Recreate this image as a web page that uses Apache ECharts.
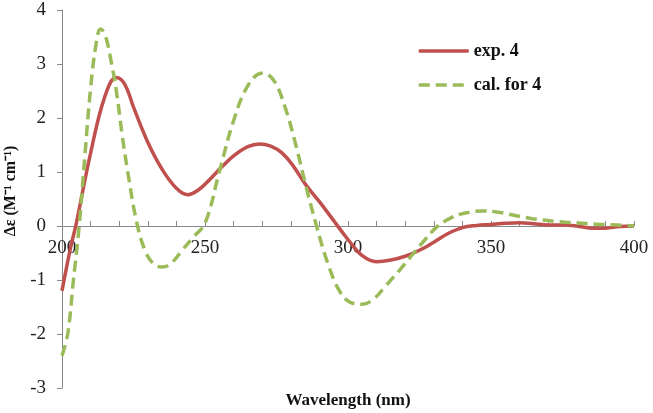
<!DOCTYPE html>
<html>
<head>
<meta charset="utf-8">
<script src="https://cdn.jsdelivr.net/npm/echarts@6/dist/echarts.min.js"></script>
<style>html,body{margin:0;padding:0;background:#fff}#c{width:653px;height:413px}</style>
</head>
<body>
<div id="c"></div>
<script>
// exp. 4 (wavelength nm, Δε)
const expWave = [200,203,205,210,215,219,222,225,230,235,240,244,248,252,256,260,265,269,273,277,281,285,290,295,300,305,310,315,320,325,330,335,340,345,350,355,360,365,370,375,380,385,390,395,400];
const expVals = [-1.2,-0.4,0.05,1.35,2.4,2.75,2.62,2.2,1.55,1.05,0.7,0.58,0.68,0.88,1.1,1.3,1.47,1.52,1.48,1.35,1.1,0.78,0.45,0.1,-0.25,-0.55,-0.66,-0.63,-0.56,-0.45,-0.3,-0.14,-0.03,0.01,0.03,0.05,0.06,0.04,0.02,0.02,0.0,-0.04,-0.04,-0.01,0.0];
// cal. for 4
const calWave = [200,202,204,206,208,210,212,213.5,215,217,219,221,223,226,229,232,235,238,242,246,250,255,260,265,270,274,278,282,285,289,293,297,301,305,309,313,318,323,327,331,336,341,347,352,358,364,370,376,382,388,394,400];
const calVals = [-2.4,-2.0,-1.0,0.0,1.3,2.55,3.4,3.65,3.55,3.1,2.5,1.7,1.0,0.1,-0.45,-0.7,-0.76,-0.7,-0.45,-0.2,0.05,1.0,1.95,2.6,2.83,2.7,2.2,1.45,0.8,0.0,-0.7,-1.2,-1.42,-1.45,-1.35,-1.12,-0.82,-0.5,-0.25,-0.02,0.15,0.24,0.28,0.26,0.2,0.14,0.1,0.07,0.05,0.03,0.02,0.0];
const seriesNames = ['exp. 4', 'cal. for 4'];
const xLabelEvery = 50;

const font = "'Liberation Serif','Times New Roman',serif";
const chart = echarts.init(document.getElementById('c'), null, {renderer: 'canvas'});
chart.setOption({
  animation: false,
  backgroundColor: '#fff',
  grid: {left: 62, right: 19, top: 10, bottom: 25, containLabel: false, outerBoundsMode: 'none'},
  legend: {
    orient: 'vertical', left: 412, top: 37,
    itemWidth: 50, itemHeight: 16, itemGap: 16,
    itemStyle: {opacity: 0},
    lineStyle: {width: 3.5},
    textStyle: {fontFamily: font, fontSize: 18, fontWeight: 'bold', color: '#111'},
    data: seriesNames
  },
  xAxis: {
    type: 'value', min: 200, max: 400, interval: 10,
    offset: -162,
    axisLine: {onZero: false, lineStyle: {color: '#888', width: 1}},
    axisTick: {inside: true, length: 5, lineStyle: {color: '#888'}},
    axisLabel: {
      margin: 13, fontFamily: font, fontSize: 19, color: '#222',
      formatter: v => (v % xLabelEvery === 0 ? String(v) : '')
    },
    splitLine: {show: false},
    name: 'Wavelength (nm)', nameLocation: 'middle', nameGap: 166,
    nameTextStyle: {fontFamily: font, fontSize: 17, fontWeight: 'bold', color: '#111'}
  },
  yAxis: {
    type: 'value', min: -3, max: 4, interval: 1,
    axisLine: {show: true, lineStyle: {color: '#888', width: 1}},
    axisTick: {show: true, length: 5, lineStyle: {color: '#888'}},
    axisLabel: {margin: 16, fontFamily: font, fontSize: 19, color: '#222'},
    splitLine: {show: false},
    name: 'Δε (M⁻¹ cm⁻¹)', nameLocation: 'middle', nameGap: 40, nameRotate: 90,
    nameTextStyle: {fontFamily: font, fontSize: 16, fontWeight: 'bold', color: '#111', padding: [0, 0, 0, 16]}
  },
  series: [
    {
      name: seriesNames[0], type: 'line', smooth: 0.4, symbol: 'none',
      data: expWave.map((w, i) => [w, expVals[i]]),
      lineStyle: {color: '#C0504D', width: 3.5},
      itemStyle: {color: '#C0504D'}, z: 2
    },
    {
      name: seriesNames[1], type: 'line', smooth: 0.4, symbol: 'none',
      data: calWave.map((w, i) => [w, calVals[i]]),
      lineStyle: {color: '#9BBB59', width: 3.5, type: [11, 6]},
      itemStyle: {color: '#9BBB59'}, z: 3
    }
  ]
});
</script>
</body>
</html>
